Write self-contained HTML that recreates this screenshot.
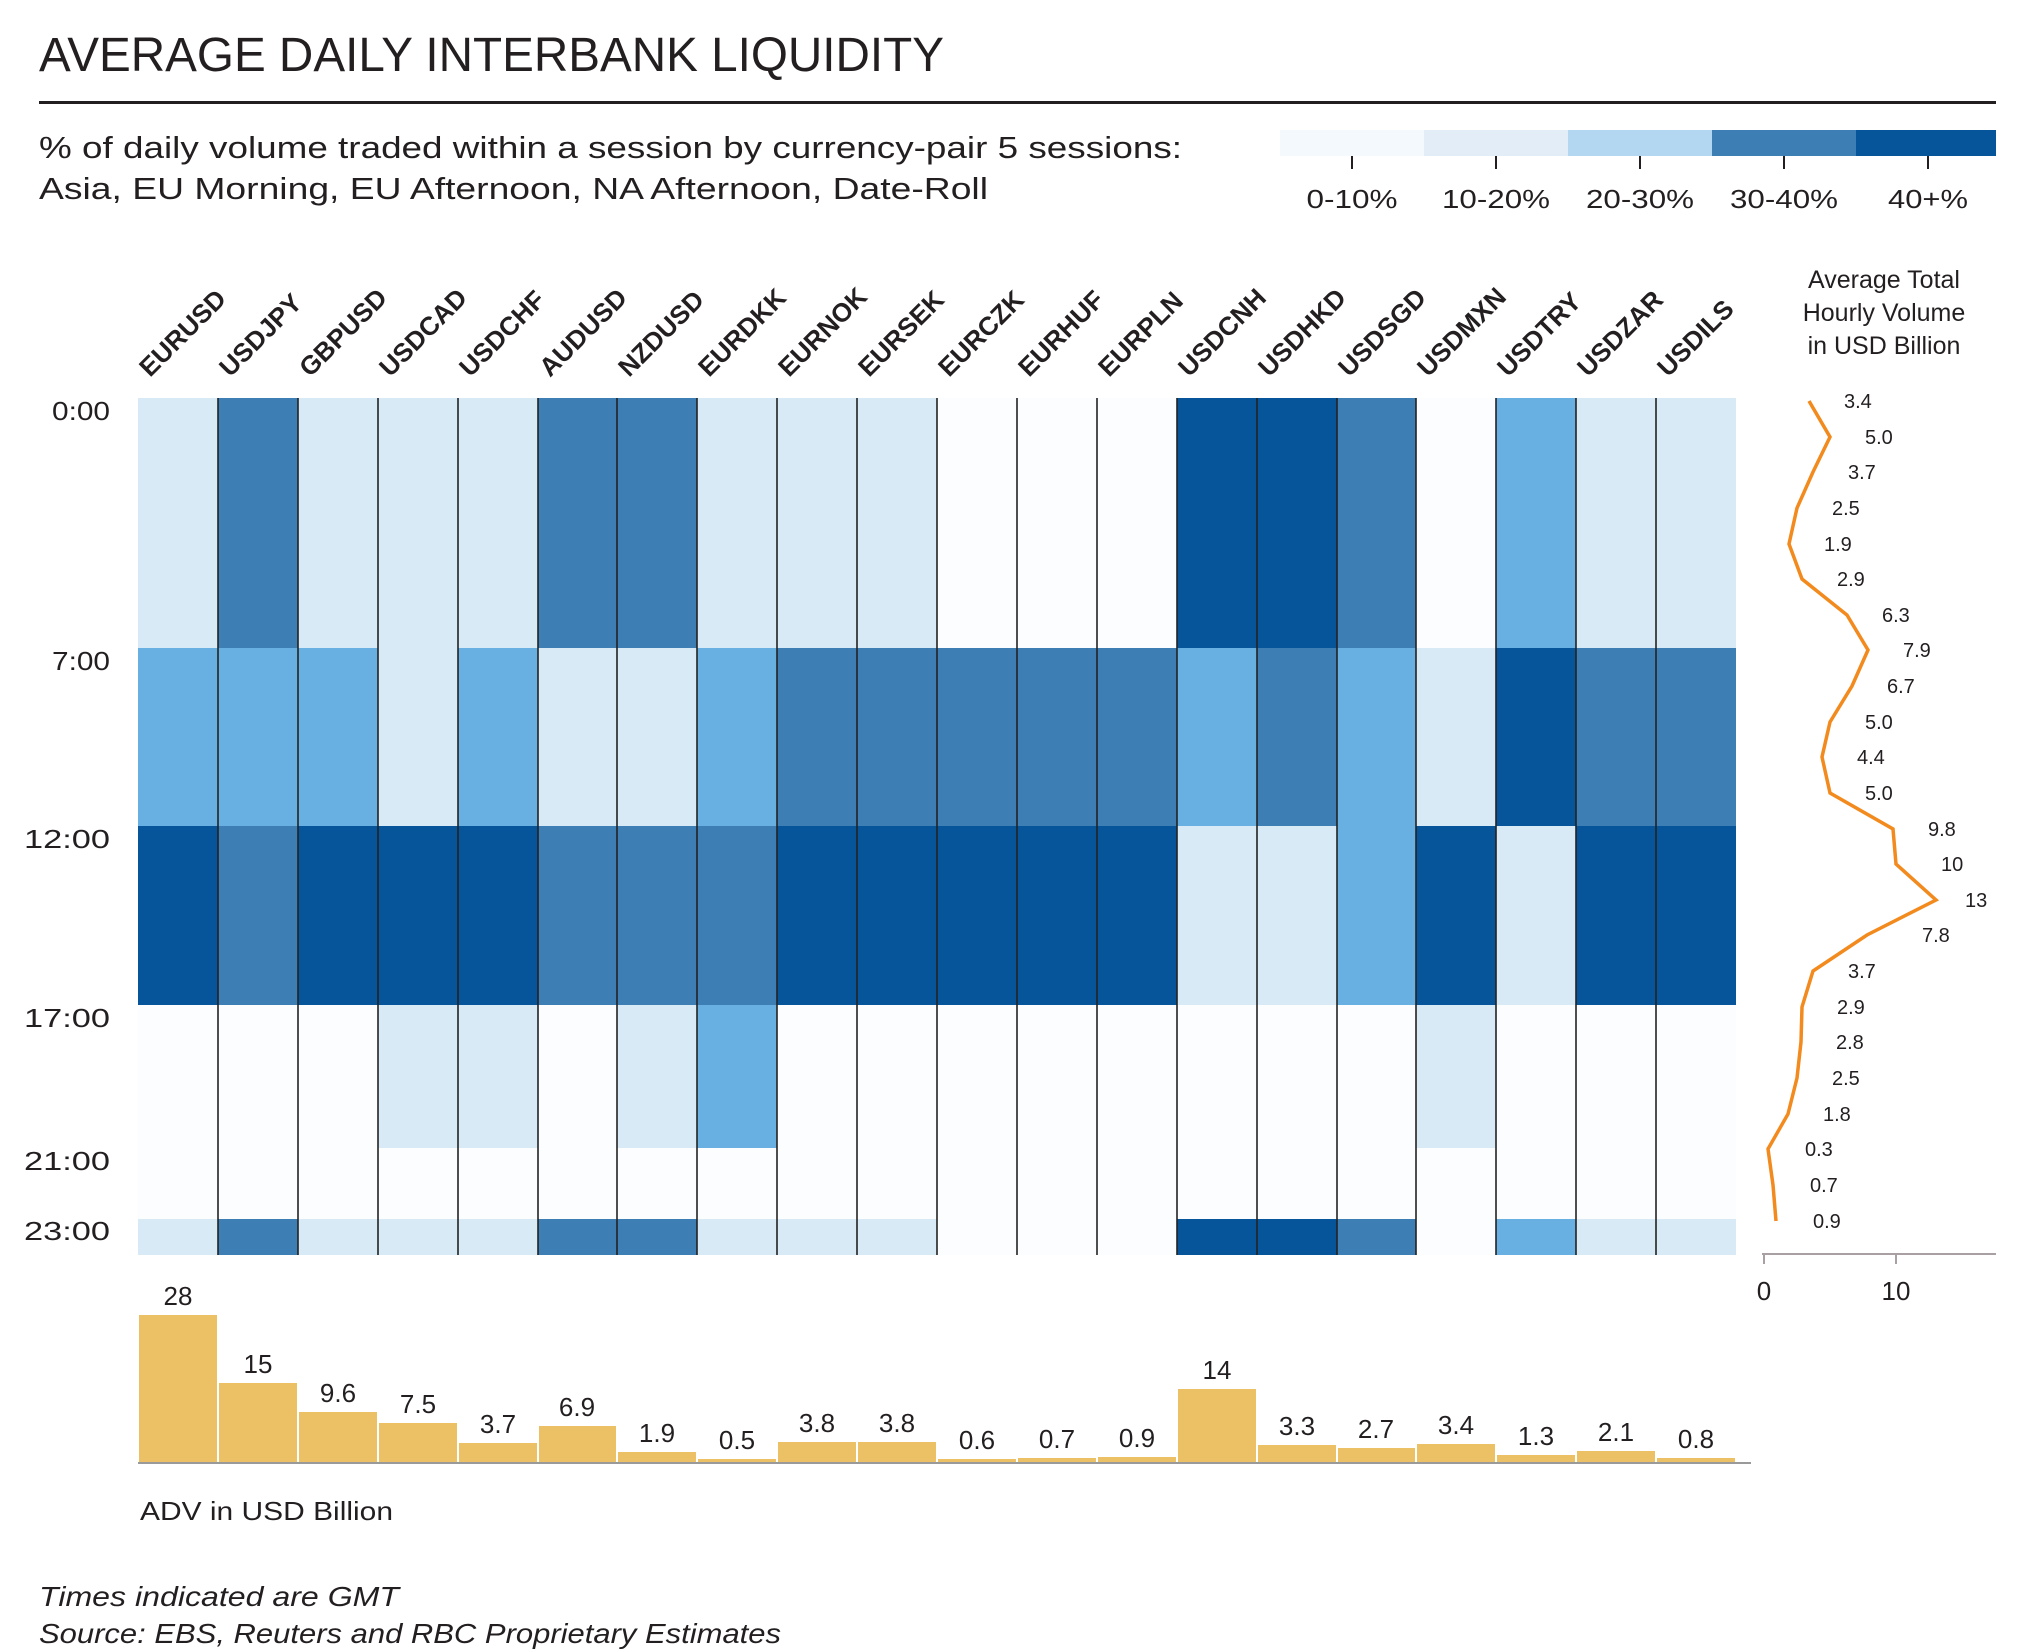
<!DOCTYPE html>
<html><head><meta charset="utf-8"><style>
html,body{margin:0;padding:0;background:#fff;}
svg{display:block;}
text{font-family:"Liberation Sans",sans-serif;fill:#231f20;}
</style></head><body>
<svg width="2026" height="1650" viewBox="0 0 2026 1650" xmlns="http://www.w3.org/2000/svg">
<!-- Title -->
<text x="39" y="71" font-size="48" textLength="905" lengthAdjust="spacingAndGlyphs">AVERAGE DAILY INTERBANK LIQUIDITY</text>
<rect x="39" y="101" width="1957" height="3" fill="#231f20"/>
<text x="39" y="158" font-size="31" textLength="1143" lengthAdjust="spacingAndGlyphs">% of daily volume traded within a session by currency-pair 5 sessions:</text>
<text x="39" y="199" font-size="31" textLength="949" lengthAdjust="spacingAndGlyphs">Asia, EU Morning, EU Afternoon, NA Afternoon, Date-Roll</text>

<!-- Legend -->
<rect x="1280" y="130" width="144" height="26" fill="#f4f9fd"/>
<rect x="1424" y="130" width="144" height="26" fill="#e2edf8"/>
<rect x="1568" y="130" width="144" height="26" fill="#b3d7f0"/>
<rect x="1712" y="130" width="144" height="26" fill="#3d7eb5"/>
<rect x="1856" y="130" width="140" height="26" fill="#06559a"/>
<g stroke="#231f20" stroke-width="2">
<line x1="1352" y1="156" x2="1352" y2="169"/><line x1="1496" y1="156" x2="1496" y2="169"/><line x1="1640" y1="156" x2="1640" y2="169"/><line x1="1784" y1="156" x2="1784" y2="169"/><line x1="1928" y1="156" x2="1928" y2="169"/>
</g>
<g font-size="26" text-anchor="middle">
<text x="1352" y="208" textLength="91" lengthAdjust="spacingAndGlyphs">0-10%</text>
<text x="1496" y="208" textLength="108" lengthAdjust="spacingAndGlyphs">10-20%</text>
<text x="1640" y="208" textLength="108" lengthAdjust="spacingAndGlyphs">20-30%</text>
<text x="1784" y="208" textLength="108" lengthAdjust="spacingAndGlyphs">30-40%</text>
<text x="1928" y="208" textLength="80" lengthAdjust="spacingAndGlyphs">40+%</text>
</g>

<!-- Column labels -->
<g font-size="26" font-weight="bold">
<text transform="translate(150,378) rotate(-45)">EURUSD</text>
<text transform="translate(230,378) rotate(-45)">USDJPY</text>
<text transform="translate(310,378) rotate(-45)">GBPUSD</text>
<text transform="translate(390,378) rotate(-45)">USDCAD</text>
<text transform="translate(470,378) rotate(-45)">USDCHF</text>
<text transform="translate(550,378) rotate(-45)">AUDUSD</text>
<text transform="translate(629,378) rotate(-45)">NZDUSD</text>
<text transform="translate(709,378) rotate(-45)">EURDKK</text>
<text transform="translate(789,378) rotate(-45)">EURNOK</text>
<text transform="translate(869,378) rotate(-45)">EURSEK</text>
<text transform="translate(949,378) rotate(-45)">EURCZK</text>
<text transform="translate(1029,378) rotate(-45)">EURHUF</text>
<text transform="translate(1109,378) rotate(-45)">EURPLN</text>
<text transform="translate(1189,378) rotate(-45)">USDCNH</text>
<text transform="translate(1269,378) rotate(-45)">USDHKD</text>
<text transform="translate(1349,378) rotate(-45)">USDSGD</text>
<text transform="translate(1428,378) rotate(-45)">USDMXN</text>
<text transform="translate(1508,378) rotate(-45)">USDTRY</text>
<text transform="translate(1588,378) rotate(-45)">USDZAR</text>
<text transform="translate(1668,378) rotate(-45)">USDILS</text>
</g>

<!-- Row labels -->
<g font-size="26" text-anchor="end">
<text x="110" y="420" textLength="58" lengthAdjust="spacingAndGlyphs">0:00</text>
<text x="110" y="670" textLength="58" lengthAdjust="spacingAndGlyphs">7:00</text>
<text x="110" y="848" textLength="86" lengthAdjust="spacingAndGlyphs">12:00</text>
<text x="110" y="1027" textLength="86" lengthAdjust="spacingAndGlyphs">17:00</text>
<text x="110" y="1170" textLength="86" lengthAdjust="spacingAndGlyphs">21:00</text>
<text x="110" y="1240" textLength="86" lengthAdjust="spacingAndGlyphs">23:00</text>
</g>

<!-- Heatmap -->
<rect x="138" y="398" width="1598" height="857" fill="#fcfdfe"/>
<g>
<rect x="138" y="398" width="80" height="250" fill="#d9eaf7"/>
<rect x="218" y="398" width="80" height="250" fill="#3d7eb5"/>
<rect x="298" y="398" width="240" height="250" fill="#d9eaf7"/>
<rect x="538" y="398" width="159" height="250" fill="#3d7eb5"/>
<rect x="697" y="398" width="240" height="250" fill="#d9eaf7"/>
<rect x="1177" y="398" width="160" height="250" fill="#06559a"/>
<rect x="1337" y="398" width="79" height="250" fill="#3d7eb5"/>
<rect x="1496" y="398" width="80" height="250" fill="#68b0e1"/>
<rect x="1576" y="398" width="160" height="250" fill="#d9eaf7"/>
</g>
<g>
<rect x="138" y="648" width="240" height="178" fill="#68b0e1"/>
<rect x="378" y="648" width="80" height="178" fill="#d9eaf7"/>
<rect x="458" y="648" width="80" height="178" fill="#68b0e1"/>
<rect x="538" y="648" width="159" height="178" fill="#d9eaf7"/>
<rect x="697" y="648" width="80" height="178" fill="#68b0e1"/>
<rect x="777" y="648" width="400" height="178" fill="#3d7eb5"/>
<rect x="1177" y="648" width="80" height="178" fill="#68b0e1"/>
<rect x="1257" y="648" width="80" height="178" fill="#3d7eb5"/>
<rect x="1337" y="648" width="79" height="178" fill="#68b0e1"/>
<rect x="1416" y="648" width="80" height="178" fill="#d9eaf7"/>
<rect x="1496" y="648" width="80" height="178" fill="#06559a"/>
<rect x="1576" y="648" width="160" height="178" fill="#3d7eb5"/>
</g>
<g>
<rect x="138" y="826" width="80" height="179" fill="#06559a"/>
<rect x="218" y="826" width="80" height="179" fill="#3d7eb5"/>
<rect x="298" y="826" width="240" height="179" fill="#06559a"/>
<rect x="538" y="826" width="239" height="179" fill="#3d7eb5"/>
<rect x="777" y="826" width="400" height="179" fill="#06559a"/>
<rect x="1177" y="826" width="160" height="179" fill="#d9eaf7"/>
<rect x="1337" y="826" width="79" height="179" fill="#68b0e1"/>
<rect x="1416" y="826" width="80" height="179" fill="#06559a"/>
<rect x="1496" y="826" width="80" height="179" fill="#d9eaf7"/>
<rect x="1576" y="826" width="160" height="179" fill="#06559a"/>
</g>
<g>
<rect x="378" y="1005" width="160" height="143" fill="#d9eaf7"/>
<rect x="617" y="1005" width="80" height="143" fill="#d9eaf7"/>
<rect x="697" y="1005" width="80" height="143" fill="#68b0e1"/>
<rect x="1416" y="1005" width="80" height="143" fill="#d9eaf7"/>
</g>
<g>
<rect x="138" y="1219" width="80" height="36" fill="#d9eaf7"/>
<rect x="218" y="1219" width="80" height="36" fill="#3d7eb5"/>
<rect x="298" y="1219" width="240" height="36" fill="#d9eaf7"/>
<rect x="538" y="1219" width="159" height="36" fill="#3d7eb5"/>
<rect x="697" y="1219" width="240" height="36" fill="#d9eaf7"/>
<rect x="1177" y="1219" width="160" height="36" fill="#06559a"/>
<rect x="1337" y="1219" width="79" height="36" fill="#3d7eb5"/>
<rect x="1496" y="1219" width="80" height="36" fill="#68b0e1"/>
<rect x="1576" y="1219" width="160" height="36" fill="#d9eaf7"/>
</g>
<g stroke="#222" stroke-width="1.6">
<line x1="218" y1="398" x2="218" y2="1255"/><line x1="298" y1="398" x2="298" y2="1255"/><line x1="378" y1="398" x2="378" y2="1255"/><line x1="458" y1="398" x2="458" y2="1255"/><line x1="538" y1="398" x2="538" y2="1255"/><line x1="617" y1="398" x2="617" y2="1255"/><line x1="697" y1="398" x2="697" y2="1255"/><line x1="777" y1="398" x2="777" y2="1255"/><line x1="857" y1="398" x2="857" y2="1255"/><line x1="937" y1="398" x2="937" y2="1255"/><line x1="1017" y1="398" x2="1017" y2="1255"/><line x1="1097" y1="398" x2="1097" y2="1255"/><line x1="1177" y1="398" x2="1177" y2="1255"/><line x1="1257" y1="398" x2="1257" y2="1255"/><line x1="1337" y1="398" x2="1337" y2="1255"/><line x1="1416" y1="398" x2="1416" y2="1255"/><line x1="1496" y1="398" x2="1496" y2="1255"/><line x1="1576" y1="398" x2="1576" y2="1255"/><line x1="1656" y1="398" x2="1656" y2="1255"/>
</g>

<!-- Right line chart -->
<g font-size="25" text-anchor="middle">
<text x="1884" y="288">Average Total</text>
<text x="1884" y="321">Hourly Volume</text>
<text x="1884" y="354">in USD Billion</text>
</g>
<g transform="translate(-9,0)">
<polyline fill="none" stroke="#f28a1e" stroke-width="3.5" points="1818,401 1839,437 1822,472 1806,508 1798,544 1811,579 1856,615 1877,650 1861,686 1839,722 1831,757 1839,793 1902,829 1905,864 1945,900 1876,935 1822,971 1811,1007 1810,1042 1806,1078 1797,1114 1777,1149 1782,1185 1785,1221"/>
<g font-size="20">
<text x="1853" y="408">3.4</text>
<text x="1874" y="444">5.0</text>
<text x="1857" y="479">3.7</text>
<text x="1841" y="515">2.5</text>
<text x="1833" y="551">1.9</text>
<text x="1846" y="586">2.9</text>
<text x="1891" y="622">6.3</text>
<text x="1912" y="657">7.9</text>
<text x="1896" y="693">6.7</text>
<text x="1874" y="729">5.0</text>
<text x="1866" y="764">4.4</text>
<text x="1874" y="800">5.0</text>
<text x="1937" y="836">9.8</text>
<text x="1950" y="871">10</text>
<text x="1974" y="907">13</text>
<text x="1931" y="942">7.8</text>
<text x="1857" y="978">3.7</text>
<text x="1846" y="1014">2.9</text>
<text x="1845" y="1049">2.8</text>
<text x="1841" y="1085">2.5</text>
<text x="1832" y="1121">1.8</text>
<text x="1814" y="1156">0.3</text>
<text x="1819" y="1192">0.7</text>
<text x="1822" y="1228">0.9</text>
</g>
<line x1="1771" y1="1254" x2="2005" y2="1254" stroke="#a9a0a3" stroke-width="2"/>
<line x1="1773" y1="1254" x2="1773" y2="1264" stroke="#a9a0a3" stroke-width="2"/>
<line x1="1905" y1="1254" x2="1905" y2="1264" stroke="#a9a0a3" stroke-width="2"/>
<g font-size="26" text-anchor="middle">
<text x="1773" y="1300">0</text>
<text x="1905" y="1300">10</text>
</g>
</g>

<!-- Bars -->
<g transform="translate(0,-7)">
<g fill="#ecc165">
<rect x="139" y="1322" width="78" height="147"/>
<rect x="219" y="1390" width="78" height="79"/>
<rect x="299" y="1419" width="78" height="50"/>
<rect x="379" y="1430" width="78" height="39"/>
<rect x="459" y="1450" width="78" height="19"/>
<rect x="539" y="1433" width="77" height="36"/>
<rect x="618" y="1459" width="78" height="10"/>
<rect x="698" y="1466" width="78" height="3"/>
<rect x="778" y="1449" width="78" height="20"/>
<rect x="858" y="1449" width="78" height="20"/>
<rect x="938" y="1466" width="78" height="3"/>
<rect x="1018" y="1465" width="78" height="4"/>
<rect x="1098" y="1464" width="78" height="5"/>
<rect x="1178" y="1396" width="78" height="73"/>
<rect x="1258" y="1452" width="78" height="17"/>
<rect x="1338" y="1455" width="77" height="14"/>
<rect x="1417" y="1451" width="78" height="18"/>
<rect x="1497" y="1462" width="78" height="7"/>
<rect x="1577" y="1458" width="78" height="11"/>
<rect x="1657" y="1465" width="78" height="4"/>
</g>
<line x1="138" y1="1470" x2="1751" y2="1470" stroke="#9a9a9a" stroke-width="2"/>
<g font-size="26" text-anchor="middle">
<text x="178" y="1312">28</text>
<text x="258" y="1380">15</text>
<text x="338" y="1409">9.6</text>
<text x="418" y="1420">7.5</text>
<text x="498" y="1440">3.7</text>
<text x="577" y="1423">6.9</text>
<text x="657" y="1449">1.9</text>
<text x="737" y="1456">0.5</text>
<text x="817" y="1439">3.8</text>
<text x="897" y="1439">3.8</text>
<text x="977" y="1456">0.6</text>
<text x="1057" y="1455">0.7</text>
<text x="1137" y="1454">0.9</text>
<text x="1217" y="1386">14</text>
<text x="1297" y="1442">3.3</text>
<text x="1376" y="1445">2.7</text>
<text x="1456" y="1441">3.4</text>
<text x="1536" y="1452">1.3</text>
<text x="1616" y="1448">2.1</text>
<text x="1696" y="1455">0.8</text>
</g>
</g>
<text x="140" y="1520" font-size="26" textLength="253" lengthAdjust="spacingAndGlyphs">ADV in USD Billion</text>

<!-- Footer -->
<text x="39" y="1606" font-size="28" font-style="italic" textLength="360" lengthAdjust="spacingAndGlyphs">Times indicated are GMT</text>
<text x="39" y="1643" font-size="28" font-style="italic" textLength="742" lengthAdjust="spacingAndGlyphs">Source: EBS, Reuters and RBC Proprietary Estimates</text>
</svg>
</body></html>
